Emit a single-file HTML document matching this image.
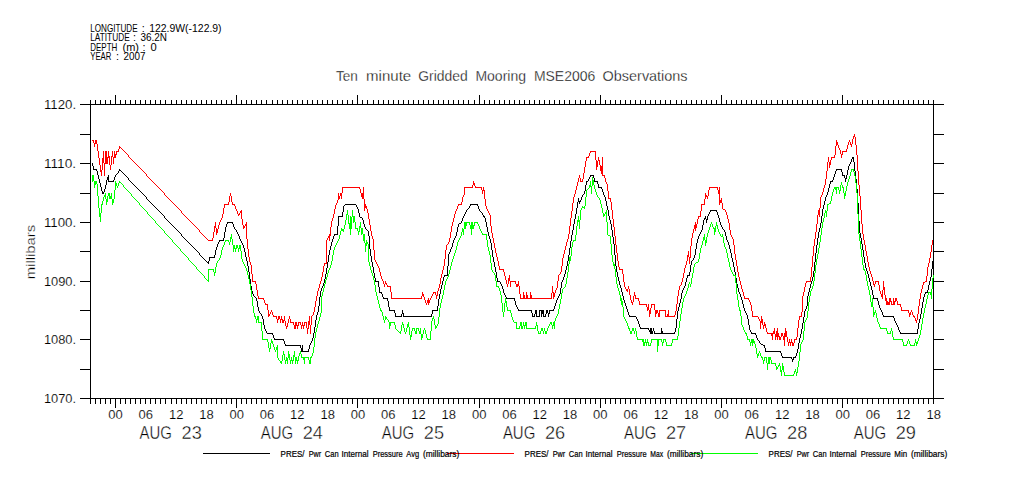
<!DOCTYPE html>
<html>
<head>
<meta charset="utf-8">
<title>Ten minute Gridded Mooring MSE2006 Observations</title>
<style>
html,body{margin:0;padding:0;background:#fff;}
body{width:1009px;height:504px;overflow:hidden;font-family:"Liberation Sans",sans-serif;}
svg{display:block;}
svg text{font-family:"Liberation Sans",sans-serif;fill:#000;}
</style>
</head>
<body>
<svg width="1009" height="504" viewBox="0 0 1009 504">
<rect x="0" y="0" width="1009" height="504" fill="#fff"/>
<path d="M80 104h864v1h-864zM80 398h864v1h-864zM90 100h1v299h-1zM933 100h1v299h-1zM80 134h10v1h-10zM933 134h11v1h-11zM80 163h10v1h-10zM933 163h11v1h-11zM80 193h10v1h-10zM933 193h11v1h-11zM80 222h10v1h-10zM933 222h11v1h-11zM80 251h10v1h-10zM933 251h11v1h-11zM80 281h10v1h-10zM933 281h11v1h-11zM80 310h10v1h-10zM933 310h11v1h-11zM80 339h10v1h-10zM933 339h11v1h-11zM80 369h10v1h-10zM933 369h11v1h-11zM90 100h1v4h-1zM90 399h1v5h-1zM95 100h1v4h-1zM95 399h1v5h-1zM100 100h1v4h-1zM100 399h1v5h-1zM105 100h1v4h-1zM105 399h1v5h-1zM110 100h1v4h-1zM110 399h1v5h-1zM115 95h1v9h-1zM115 399h1v9h-1zM120 100h1v4h-1zM120 399h1v5h-1zM125 100h1v4h-1zM125 399h1v5h-1zM130 100h1v4h-1zM130 399h1v5h-1zM135 100h1v4h-1zM135 399h1v5h-1zM140 100h1v4h-1zM140 399h1v5h-1zM145 100h1v4h-1zM145 399h1v5h-1zM150 100h1v4h-1zM150 399h1v5h-1zM155 100h1v4h-1zM155 399h1v5h-1zM160 100h1v4h-1zM160 399h1v5h-1zM165 100h1v4h-1zM165 399h1v5h-1zM171 100h1v4h-1zM171 399h1v5h-1zM176 100h1v4h-1zM176 399h1v5h-1zM181 100h1v4h-1zM181 399h1v5h-1zM186 100h1v4h-1zM186 399h1v5h-1zM191 100h1v4h-1zM191 399h1v5h-1zM196 100h1v4h-1zM196 399h1v5h-1zM201 100h1v4h-1zM201 399h1v5h-1zM206 100h1v4h-1zM206 399h1v5h-1zM211 100h1v4h-1zM211 399h1v5h-1zM216 100h1v4h-1zM216 399h1v5h-1zM221 100h1v4h-1zM221 399h1v5h-1zM226 100h1v4h-1zM226 399h1v5h-1zM231 100h1v4h-1zM231 399h1v5h-1zM236 95h1v9h-1zM236 399h1v9h-1zM241 100h1v4h-1zM241 399h1v5h-1zM246 100h1v4h-1zM246 399h1v5h-1zM251 100h1v4h-1zM251 399h1v5h-1zM256 100h1v4h-1zM256 399h1v5h-1zM261 100h1v4h-1zM261 399h1v5h-1zM266 100h1v4h-1zM266 399h1v5h-1zM272 100h1v4h-1zM272 399h1v5h-1zM277 100h1v4h-1zM277 399h1v5h-1zM282 100h1v4h-1zM282 399h1v5h-1zM287 100h1v4h-1zM287 399h1v5h-1zM292 100h1v4h-1zM292 399h1v5h-1zM297 100h1v4h-1zM297 399h1v5h-1zM302 100h1v4h-1zM302 399h1v5h-1zM307 100h1v4h-1zM307 399h1v5h-1zM312 100h1v4h-1zM312 399h1v5h-1zM317 100h1v4h-1zM317 399h1v5h-1zM322 100h1v4h-1zM322 399h1v5h-1zM327 100h1v4h-1zM327 399h1v5h-1zM332 100h1v4h-1zM332 399h1v5h-1zM337 100h1v4h-1zM337 399h1v5h-1zM342 100h1v4h-1zM342 399h1v5h-1zM347 100h1v4h-1zM347 399h1v5h-1zM352 100h1v4h-1zM352 399h1v5h-1zM357 95h1v9h-1zM357 399h1v9h-1zM362 100h1v4h-1zM362 399h1v5h-1zM367 100h1v4h-1zM367 399h1v5h-1zM373 100h1v4h-1zM373 399h1v5h-1zM378 100h1v4h-1zM378 399h1v5h-1zM383 100h1v4h-1zM383 399h1v5h-1zM388 100h1v4h-1zM388 399h1v5h-1zM393 100h1v4h-1zM393 399h1v5h-1zM398 100h1v4h-1zM398 399h1v5h-1zM403 100h1v4h-1zM403 399h1v5h-1zM408 100h1v4h-1zM408 399h1v5h-1zM413 100h1v4h-1zM413 399h1v5h-1zM418 100h1v4h-1zM418 399h1v5h-1zM423 100h1v4h-1zM423 399h1v5h-1zM428 100h1v4h-1zM428 399h1v5h-1zM433 100h1v4h-1zM433 399h1v5h-1zM438 100h1v4h-1zM438 399h1v5h-1zM443 100h1v4h-1zM443 399h1v5h-1zM448 100h1v4h-1zM448 399h1v5h-1zM453 100h1v4h-1zM453 399h1v5h-1zM458 100h1v4h-1zM458 399h1v5h-1zM463 100h1v4h-1zM463 399h1v5h-1zM468 100h1v4h-1zM468 399h1v5h-1zM474 100h1v4h-1zM474 399h1v5h-1zM479 95h1v9h-1zM479 399h1v9h-1zM484 100h1v4h-1zM484 399h1v5h-1zM489 100h1v4h-1zM489 399h1v5h-1zM494 100h1v4h-1zM494 399h1v5h-1zM499 100h1v4h-1zM499 399h1v5h-1zM504 100h1v4h-1zM504 399h1v5h-1zM509 100h1v4h-1zM509 399h1v5h-1zM514 100h1v4h-1zM514 399h1v5h-1zM519 100h1v4h-1zM519 399h1v5h-1zM524 100h1v4h-1zM524 399h1v5h-1zM529 100h1v4h-1zM529 399h1v5h-1zM534 100h1v4h-1zM534 399h1v5h-1zM539 100h1v4h-1zM539 399h1v5h-1zM544 100h1v4h-1zM544 399h1v5h-1zM549 100h1v4h-1zM549 399h1v5h-1zM554 100h1v4h-1zM554 399h1v5h-1zM559 100h1v4h-1zM559 399h1v5h-1zM564 100h1v4h-1zM564 399h1v5h-1zM569 100h1v4h-1zM569 399h1v5h-1zM575 100h1v4h-1zM575 399h1v5h-1zM580 100h1v4h-1zM580 399h1v5h-1zM585 100h1v4h-1zM585 399h1v5h-1zM590 100h1v4h-1zM590 399h1v5h-1zM595 100h1v4h-1zM595 399h1v5h-1zM600 95h1v9h-1zM600 399h1v9h-1zM605 100h1v4h-1zM605 399h1v5h-1zM610 100h1v4h-1zM610 399h1v5h-1zM615 100h1v4h-1zM615 399h1v5h-1zM620 100h1v4h-1zM620 399h1v5h-1zM625 100h1v4h-1zM625 399h1v5h-1zM630 100h1v4h-1zM630 399h1v5h-1zM635 100h1v4h-1zM635 399h1v5h-1zM640 100h1v4h-1zM640 399h1v5h-1zM645 100h1v4h-1zM645 399h1v5h-1zM650 100h1v4h-1zM650 399h1v5h-1zM655 100h1v4h-1zM655 399h1v5h-1zM660 100h1v4h-1zM660 399h1v5h-1zM665 100h1v4h-1zM665 399h1v5h-1zM670 100h1v4h-1zM670 399h1v5h-1zM676 100h1v4h-1zM676 399h1v5h-1zM681 100h1v4h-1zM681 399h1v5h-1zM686 100h1v4h-1zM686 399h1v5h-1zM691 100h1v4h-1zM691 399h1v5h-1zM696 100h1v4h-1zM696 399h1v5h-1zM701 100h1v4h-1zM701 399h1v5h-1zM706 100h1v4h-1zM706 399h1v5h-1zM711 100h1v4h-1zM711 399h1v5h-1zM716 100h1v4h-1zM716 399h1v5h-1zM721 95h1v9h-1zM721 399h1v9h-1zM726 100h1v4h-1zM726 399h1v5h-1zM731 100h1v4h-1zM731 399h1v5h-1zM736 100h1v4h-1zM736 399h1v5h-1zM741 100h1v4h-1zM741 399h1v5h-1zM746 100h1v4h-1zM746 399h1v5h-1zM751 100h1v4h-1zM751 399h1v5h-1zM756 100h1v4h-1zM756 399h1v5h-1zM761 100h1v4h-1zM761 399h1v5h-1zM766 100h1v4h-1zM766 399h1v5h-1zM771 100h1v4h-1zM771 399h1v5h-1zM777 100h1v4h-1zM777 399h1v5h-1zM782 100h1v4h-1zM782 399h1v5h-1zM787 100h1v4h-1zM787 399h1v5h-1zM792 100h1v4h-1zM792 399h1v5h-1zM797 100h1v4h-1zM797 399h1v5h-1zM802 100h1v4h-1zM802 399h1v5h-1zM807 100h1v4h-1zM807 399h1v5h-1zM812 100h1v4h-1zM812 399h1v5h-1zM817 100h1v4h-1zM817 399h1v5h-1zM822 100h1v4h-1zM822 399h1v5h-1zM827 100h1v4h-1zM827 399h1v5h-1zM832 100h1v4h-1zM832 399h1v5h-1zM837 100h1v4h-1zM837 399h1v5h-1zM842 95h1v9h-1zM842 399h1v9h-1zM847 100h1v4h-1zM847 399h1v5h-1zM852 100h1v4h-1zM852 399h1v5h-1zM857 100h1v4h-1zM857 399h1v5h-1zM862 100h1v4h-1zM862 399h1v5h-1zM867 100h1v4h-1zM867 399h1v5h-1zM872 100h1v4h-1zM872 399h1v5h-1zM878 100h1v4h-1zM878 399h1v5h-1zM883 100h1v4h-1zM883 399h1v5h-1zM888 100h1v4h-1zM888 399h1v5h-1zM893 100h1v4h-1zM893 399h1v5h-1zM898 100h1v4h-1zM898 399h1v5h-1zM903 100h1v4h-1zM903 399h1v5h-1zM908 100h1v4h-1zM908 399h1v5h-1zM913 100h1v4h-1zM913 399h1v5h-1zM918 100h1v4h-1zM918 399h1v5h-1zM923 100h1v4h-1zM923 399h1v5h-1zM928 100h1v4h-1zM928 399h1v5h-1zM933 100h1v4h-1zM933 399h1v5h-1z" fill="#000" shape-rendering="crispEdges"/>
<path d="M92.5 163v3M93.5 166v4M96.5 169v2M97.5 171v4M98.5 175v4M99.5 179v4M100.5 183v4M101.5 187v4M102.5 191v3M103.5 192v2M104.5 189v3M105.5 185v4M106.5 180v5M107.5 177v3M108.5 175v7M113.5 180v2M114.5 177v3M115.5 175v2M118.5 171v2M119.5 169v2M128.5 178v2M146.5 197v2M164.5 216v2M181.5 234v2M199.5 253v2M208.5 261v3M209.5 257v4M214.5 255v3M215.5 250v5M216.5 247v3M217.5 244v3M218.5 242v2M219.5 240v2M223.5 238v3M224.5 232v6M225.5 227v5M226.5 224v3M227.5 222v2M232.5 222v2M233.5 224v3M234.5 227v2M236.5 230v2M237.5 232v2M238.5 234v2M239.5 236v3M240.5 239v2M241.5 241v2M242.5 243v2M243.5 245v3M244.5 248v4M245.5 252v5M246.5 257v4M247.5 261v5M248.5 266v6M249.5 272v7M250.5 279v7M251.5 286v5M252.5 291v3M253.5 294v2M256.5 298v3M257.5 301v6M258.5 307v4M259.5 311v2M261.5 314v2M262.5 316v3M263.5 319v6M264.5 325v4M265.5 329v2M266.5 331v2M272.5 333v2M273.5 335v3M274.5 338v2M283.5 339v2M284.5 341v3M285.5 344v2M300.5 345v3M301.5 348v4M302.5 345v7M308.5 349v3M309.5 345v4M310.5 343v2M311.5 341v2M312.5 338v3M313.5 333v5M314.5 327v6M315.5 320v7M316.5 315v5M317.5 312v3M318.5 306v6M319.5 297v9M320.5 291v6M321.5 288v3M322.5 286v2M323.5 283v3M324.5 279v4M325.5 274v5M326.5 268v6M327.5 262v6M328.5 255v7M329.5 250v5M330.5 246v4M331.5 242v4M332.5 239v3M333.5 236v3M334.5 234v2M337.5 226v9M338.5 216v10M342.5 212v5M343.5 206v6M356.5 205v2M357.5 207v2M358.5 209v4M359.5 213v4M362.5 218v2M363.5 220v4M364.5 224v3M365.5 227v2M368.5 231v5M369.5 236v13M370.5 249v7M371.5 256v6M372.5 262v5M373.5 267v6M374.5 273v5M375.5 278v4M378.5 281v6M379.5 287v6M381.5 292v2M382.5 294v3M383.5 297v2M387.5 298v3M388.5 301v6M389.5 307v4M394.5 310v3M395.5 313v4M401.5 314v3M402.5 310v4M403.5 313v4M431.5 314v3M432.5 310v4M437.5 306v5M438.5 299v7M439.5 294v5M440.5 289v5M441.5 285v4M442.5 281v4M443.5 277v4M444.5 275v2M447.5 266v10M448.5 254v12M449.5 252v2M450.5 249v3M451.5 247v2M452.5 243v4M453.5 240v3M454.5 238v2M455.5 236v2M456.5 232v4M457.5 227v5M458.5 224v3M461.5 221v2M462.5 218v3M463.5 216v2M464.5 214v2M465.5 212v2M466.5 210v2M469.5 206v2M470.5 204v2M477.5 204v2M478.5 206v3M479.5 209v2M482.5 213v2M483.5 215v2M484.5 216v2M485.5 218v4M486.5 222v5M487.5 227v5M488.5 232v4M489.5 236v3M490.5 239v4M491.5 243v7M492.5 250v7M493.5 257v5M494.5 262v5M495.5 267v5M496.5 272v6M497.5 278v4M500.5 282v2M501.5 284v2M502.5 286v3M503.5 289v4M504.5 293v2M505.5 295v2M506.5 297v2M514.5 298v3M515.5 301v4M516.5 305v2M517.5 307v2M518.5 309v2M531.5 310v3M532.5 313v4M534.5 314v3M535.5 310v4M536.5 310v7M539.5 310v7M541.5 310v7M542.5 310v4M543.5 310v7M545.5 314v3M546.5 310v4M547.5 310v3M548.5 313v4M549.5 310v4M553.5 309v2M554.5 306v3M555.5 303v3M556.5 300v3M557.5 298v2M558.5 296v2M559.5 294v2M560.5 288v6M561.5 282v6M562.5 280v2M563.5 277v3M564.5 274v3M565.5 270v4M566.5 266v4M567.5 261v5M568.5 255v6M569.5 248v7M570.5 241v7M571.5 235v6M572.5 230v5M573.5 224v6M574.5 219v5M575.5 214v5M576.5 208v6M577.5 202v6M578.5 198v4M579.5 201v3M580.5 200v2M581.5 197v3M582.5 195v2M584.5 191v3M585.5 185v6M586.5 181v4M588.5 179v2M589.5 177v2M590.5 175v2M593.5 175v3M594.5 178v4M597.5 181v3M598.5 184v4M601.5 187v2M602.5 189v3M603.5 192v3M604.5 195v2M605.5 197v4M606.5 201v5M607.5 206v4M608.5 210v6M609.5 216v4M610.5 220v4M611.5 224v6M612.5 230v7M613.5 237v7M614.5 244v11M615.5 255v11M616.5 266v6M617.5 272v5M618.5 277v4M619.5 281v4M620.5 285v3M621.5 288v4M622.5 292v4M623.5 296v4M624.5 300v3M625.5 303v3M626.5 306v3M627.5 309v3M628.5 312v3M629.5 315v2M636.5 317v2M637.5 319v2M638.5 321v3M639.5 324v3M640.5 327v2M648.5 328v2M649.5 330v2M650.5 328v6M651.5 328v6M652.5 331v3M653.5 328v3M654.5 331v3M661.5 328v6M662.5 331v3M674.5 332v2M675.5 328v4M676.5 319v9M677.5 311v8M678.5 307v4M679.5 303v4M680.5 299v4M681.5 293v6M682.5 290v3M683.5 288v2M684.5 286v2M685.5 282v4M686.5 278v4M687.5 275v3M689.5 272v4M690.5 265v7M691.5 261v4M693.5 258v2M694.5 255v3M695.5 249v6M696.5 243v6M697.5 239v4M698.5 236v3M699.5 234v2M700.5 232v2M701.5 230v2M702.5 225v5M703.5 220v5M704.5 218v2M705.5 216v3M706.5 219v4M707.5 216v4M708.5 214v2M709.5 212v2M710.5 210v2M716.5 210v2M717.5 212v3M718.5 215v3M719.5 218v4M720.5 222v3M721.5 225v2M722.5 227v2M724.5 230v2M725.5 232v4M726.5 236v4M727.5 240v2M728.5 242v3M729.5 245v4M730.5 249v4M731.5 253v5M732.5 258v4M733.5 262v5M734.5 267v5M735.5 272v6M736.5 278v6M737.5 284v4M738.5 288v4M739.5 292v2M740.5 294v3M741.5 297v3M742.5 300v4M743.5 304v4M744.5 308v3M745.5 311v2M746.5 313v2M747.5 315v4M748.5 319v6M749.5 325v5M750.5 330v2M751.5 332v2M755.5 333v2M756.5 335v3M757.5 338v2M759.5 341v2M764.5 345v3M765.5 348v4M780.5 351v2M781.5 353v3M782.5 356v2M791.5 357v2M792.5 359v3M793.5 357v3M795.5 356v2M796.5 353v3M797.5 349v4M798.5 343v6M799.5 338v5M800.5 334v4M801.5 329v5M802.5 323v6M803.5 317v6M804.5 311v6M805.5 309v2M806.5 306v3M807.5 296v10M808.5 292v4M809.5 288v4M810.5 284v4M811.5 281v3M812.5 277v4M813.5 271v6M814.5 262v9M815.5 253v9M816.5 245v8M817.5 238v7M818.5 232v6M819.5 228v4M820.5 223v5M821.5 216v7M822.5 209v7M823.5 205v4M824.5 201v4M825.5 197v4M826.5 195v2M827.5 192v3M828.5 188v4M829.5 184v4M830.5 181v3M832.5 180v2M833.5 177v3M834.5 174v3M835.5 171v3M836.5 169v2M841.5 169v3M842.5 172v4M844.5 175v3M845.5 178v4M846.5 175v4M847.5 170v5M848.5 166v4M849.5 164v2M850.5 162v2M851.5 159v3M852.5 157v2M853.5 157v5M854.5 162v9M855.5 171v8M856.5 179v10M857.5 189v14M858.5 203v18M859.5 221v12M860.5 233v5M861.5 238v6M862.5 244v6M863.5 250v7M864.5 257v6M865.5 263v5M866.5 268v3M867.5 271v3M868.5 274v4M869.5 278v4M870.5 282v4M871.5 286v4M872.5 290v5M873.5 295v4M877.5 298v3M878.5 301v4M879.5 305v3M880.5 308v2M881.5 310v2M882.5 312v3M883.5 315v2M893.5 316v2M894.5 318v3M895.5 321v2M896.5 323v2M897.5 325v2M898.5 327v3M899.5 330v2M900.5 332v2M917.5 329v5M918.5 323v6M919.5 319v4M920.5 314v5M921.5 308v6M922.5 302v6M923.5 297v5M924.5 294v3M925.5 292v2M927.5 290v3M928.5 285v5M929.5 281v4M930.5 277v4M931.5 269v8M932.5 261v8M94 169.5h2M837 169.5h4M120 170.5h1M121 171.5h1M122 172.5h1M117 173.5h1M123 173.5h1M116 174.5h1M124 174.5h1M125 175.5h1M591 175.5h2M843 175.5h1M126 176.5h1M127 177.5h1M129 180.5h1M109 181.5h4M130 181.5h1M587 181.5h1M595 181.5h2M831 181.5h1M131 182.5h1M132 183.5h1M133 184.5h1M134 185.5h1M135 186.5h1M136 187.5h1M599 187.5h2M137 188.5h1M138 189.5h1M139 190.5h1M140 191.5h1M141 192.5h1M142 193.5h1M143 194.5h1M583 194.5h1M144 195.5h1M145 196.5h1M147 199.5h1M148 200.5h1M149 201.5h1M150 202.5h1M151 203.5h1M152 204.5h1M345 204.5h11M471 204.5h6M153 205.5h1M344 205.5h1M154 206.5h1M155 207.5h1M156 208.5h1M468 208.5h1M157 209.5h1M467 209.5h1M158 210.5h1M711 210.5h5M159 211.5h1M480 211.5h1M160 212.5h1M481 212.5h1M161 213.5h1M162 214.5h1M163 215.5h1M339 216.5h3M360 217.5h2M165 218.5h1M166 219.5h1M167 220.5h1M168 221.5h1M169 222.5h1M228 222.5h4M170 223.5h1M459 223.5h2M171 224.5h1M172 225.5h1M173 226.5h1M174 227.5h1M175 228.5h1M176 229.5h1M235 229.5h1M366 229.5h1M723 229.5h1M177 230.5h1M367 230.5h1M178 231.5h1M179 232.5h1M180 233.5h1M335 234.5h2M182 236.5h1M183 237.5h1M184 238.5h1M185 239.5h1M186 240.5h1M220 240.5h3M187 241.5h1M188 242.5h1M189 243.5h1M190 244.5h1M191 245.5h1M192 246.5h1M193 247.5h1M194 248.5h1M195 249.5h1M196 250.5h1M197 251.5h1M198 252.5h1M200 255.5h1M201 256.5h1M202 257.5h1M210 257.5h4M203 258.5h1M204 259.5h1M205 260.5h1M692 260.5h1M206 261.5h1M207 262.5h1M445 275.5h2M688 275.5h1M376 281.5h2M498 281.5h2M380 292.5h1M926 292.5h1M254 296.5h1M255 297.5h1M384 298.5h3M507 298.5h7M874 298.5h3M390 310.5h4M433 310.5h4M519 310.5h12M540 310.5h1M550 310.5h3M260 313.5h1M396 316.5h5M404 316.5h27M533 316.5h1M537 316.5h2M544 316.5h1M630 316.5h6M884 316.5h9M641 328.5h7M267 333.5h5M655 333.5h6M663 333.5h11M752 333.5h3M901 333.5h16M275 339.5h8M758 340.5h1M760 343.5h1M761 344.5h2M286 345.5h14M763 345.5h1M303 351.5h5M766 351.5h14M783 357.5h8M794 357.5h1" fill="none" stroke="#000000" stroke-width="1" shape-rendering="crispEdges"/>
<path d="M93.5 140v3M94.5 143v4M95.5 140v4M96.5 140v4M97.5 144v7M98.5 151v7M99.5 158v7M100.5 165v7M101.5 170v6M102.5 158v12M103.5 151v12M104.5 163v13M105.5 151v13M106.5 151v13M107.5 157v7M108.5 151v7M109.5 156v9M110.5 165v5M111.5 156v9M112.5 151v6M113.5 157v7M114.5 151v7M115.5 154v4M116.5 151v4M118.5 149v3M119.5 146v3M128.5 155v2M146.5 174v2M164.5 193v2M181.5 211v2M199.5 230v2M212.5 238v3M213.5 232v6M214.5 226v6M215.5 222v6M216.5 228v7M217.5 229v4M218.5 225v4M219.5 222v3M220.5 220v2M221.5 218v2M222.5 214v4M223.5 208v6M224.5 204v4M228.5 202v3M229.5 196v6M230.5 193v3M231.5 196v6M232.5 202v3M234.5 204v2M235.5 206v3M236.5 209v2M237.5 211v3M238.5 214v2M239.5 213v2M240.5 211v2M241.5 210v9M242.5 219v6M243.5 225v4M244.5 226v2M245.5 224v2M246.5 222v17M247.5 239v10M248.5 249v8M249.5 257v5M250.5 262v3M251.5 265v9M252.5 274v8M255.5 281v3M256.5 284v6M257.5 290v6M258.5 296v3M263.5 298v2M264.5 300v3M265.5 303v2M267.5 304v6M268.5 310v7M269.5 314v2M270.5 312v2M271.5 310v2M272.5 312v3M273.5 315v2M276.5 316v3M277.5 319v4M278.5 316v4M279.5 316v3M280.5 319v4M281.5 316v4M282.5 319v4M283.5 320v3M284.5 316v5M285.5 321v5M286.5 326v3M287.5 323v4M288.5 319v4M289.5 316v3M290.5 319v4M293.5 322v3M294.5 325v4M295.5 322v7M296.5 322v4M297.5 325v4M298.5 322v4M300.5 322v3M301.5 325v4M302.5 322v4M303.5 325v4M304.5 322v4M306.5 322v6M307.5 328v6M308.5 321v8M309.5 316v9M310.5 325v9M311.5 316v9M313.5 312v3M314.5 307v5M315.5 301v6M316.5 296v5M317.5 291v5M318.5 288v3M319.5 284v4M320.5 281v3M321.5 277v4M322.5 272v5M323.5 266v6M324.5 263v3M326.5 240v24M327.5 238v2M328.5 236v2M329.5 234v7M330.5 227v9M331.5 221v6M332.5 218v3M333.5 214v4M334.5 209v5M335.5 205v4M336.5 203v2M337.5 200v3M338.5 193v7M339.5 196v3M340.5 193v3M341.5 193v6M342.5 187v6M359.5 187v2M360.5 189v4M361.5 193v4M362.5 193v6M363.5 187v12M364.5 199v12M365.5 204v4M366.5 206v3M367.5 209v4M368.5 213v6M369.5 219v6M370.5 225v6M371.5 231v5M372.5 236v3M373.5 239v11M374.5 250v10M375.5 260v2M376.5 262v2M377.5 264v2M378.5 266v2M379.5 268v4M380.5 272v4M381.5 276v3M382.5 279v2M383.5 281v3M384.5 284v3M385.5 281v3M386.5 283v2M387.5 285v2M390.5 286v6M391.5 292v7M421.5 296v3M422.5 292v4M423.5 294v3M424.5 297v3M425.5 300v3M426.5 303v2M427.5 300v3M428.5 298v7M429.5 300v3M430.5 298v2M431.5 296v2M432.5 294v2M433.5 292v2M435.5 292v3M436.5 295v4M437.5 291v5M438.5 288v3M439.5 284v4M440.5 278v6M441.5 274v4M442.5 270v4M443.5 266v4M444.5 259v7M445.5 250v9M446.5 245v5M448.5 242v2M449.5 238v4M450.5 232v6M451.5 226v6M452.5 222v4M453.5 218v4M454.5 214v4M455.5 211v3M456.5 209v2M457.5 206v3M458.5 204v2M461.5 202v3M462.5 197v5M463.5 195v2M464.5 187v8M472.5 185v3M473.5 181v4M474.5 183v3M475.5 186v2M481.5 187v3M482.5 190v4M483.5 187v4M484.5 190v9M485.5 199v7M486.5 206v3M487.5 209v2M488.5 211v2M489.5 213v2M490.5 215v11M491.5 226v7M492.5 233v5M493.5 238v5M494.5 243v5M495.5 248v5M496.5 253v4M497.5 257v4M498.5 261v5M499.5 266v4M503.5 269v3M504.5 272v4M505.5 276v4M506.5 280v4M507.5 284v3M508.5 278v6M509.5 275v6M510.5 281v6M515.5 281v3M516.5 284v3M517.5 284v3M518.5 281v5M519.5 286v8M520.5 294v5M523.5 292v7M524.5 295v4M526.5 292v7M527.5 295v4M530.5 292v7M531.5 295v4M551.5 293v6M552.5 286v7M553.5 292v7M554.5 293v4M555.5 290v3M556.5 288v2M557.5 281v7M558.5 275v6M560.5 272v2M561.5 266v6M562.5 258v8M563.5 254v4M564.5 250v4M565.5 246v4M566.5 242v4M567.5 239v3M568.5 234v5M569.5 226v8M570.5 218v8M571.5 211v7M572.5 203v8M573.5 197v6M574.5 194v3M575.5 190v4M576.5 186v4M577.5 182v4M578.5 178v4M579.5 175v3M580.5 178v4M582.5 179v3M583.5 173v6M584.5 167v6M585.5 161v6M586.5 157v4M588.5 156v2M589.5 153v3M590.5 151v2M595.5 151v9M596.5 160v10M597.5 161v6M598.5 157v4M599.5 160v5M600.5 165v6M601.5 166v8M602.5 157v19M604.5 175v3M605.5 178v4M606.5 182v2M607.5 184v7M608.5 191v8M610.5 198v4M611.5 202v8M612.5 210v9M613.5 219v8M614.5 227v9M615.5 236v9M616.5 245v8M617.5 253v8M618.5 261v6M619.5 267v3M622.5 269v5M623.5 274v8M624.5 282v5M625.5 287v2M626.5 289v2M627.5 289v3M628.5 286v3M629.5 289v6M630.5 295v5M631.5 300v3M632.5 302v3M633.5 296v6M634.5 292v4M635.5 295v4M638.5 298v3M639.5 301v4M646.5 304v3M647.5 307v4M648.5 304v6M649.5 310v7M650.5 308v6M651.5 304v4M654.5 304v6M655.5 310v7M656.5 310v4M657.5 310v3M658.5 313v4M659.5 310v7M665.5 310v7M667.5 314v3M668.5 310v7M674.5 315v2M675.5 311v4M676.5 304v7M677.5 296v8M678.5 290v6M679.5 286v4M681.5 282v3M682.5 278v4M683.5 273v5M684.5 268v5M685.5 265v3M686.5 261v4M687.5 255v6M688.5 251v6M689.5 257v7M690.5 246v12M691.5 238v8M692.5 233v5M693.5 229v4M694.5 225v4M695.5 222v9M696.5 224v4M697.5 219v5M698.5 216v3M700.5 211v6M701.5 204v7M704.5 199v6M705.5 193v6M706.5 195v2M707.5 196v3M708.5 190v6M709.5 187v3M717.5 187v3M718.5 190v4M719.5 187v18M720.5 200v3M721.5 198v5M722.5 203v6M725.5 210v2M726.5 212v3M727.5 215v4M728.5 219v4M729.5 223v7M730.5 230v5M731.5 235v2M732.5 237v2M733.5 239v6M734.5 245v9M735.5 254v6M736.5 260v6M737.5 266v6M738.5 272v5M739.5 277v4M740.5 281v4M741.5 285v4M742.5 289v3M743.5 292v4M744.5 296v3M748.5 298v2M749.5 300v2M750.5 302v3M751.5 305v6M752.5 311v6M758.5 317v2M759.5 319v2M760.5 321v8M761.5 316v7M762.5 319v6M763.5 325v4M764.5 322v4M765.5 324v4M766.5 328v4M767.5 332v2M771.5 333v3M772.5 333v7M773.5 331v3M774.5 328v6M775.5 334v6M776.5 331v6M777.5 328v12M778.5 333v4M779.5 336v4M780.5 337v3M781.5 333v4M782.5 333v3M783.5 336v4M784.5 333v13M785.5 328v9M786.5 331v6M787.5 337v5M788.5 342v4M789.5 339v4M790.5 342v4M791.5 339v4M792.5 342v4M793.5 343v3M794.5 339v4M796.5 337v3M797.5 328v9M798.5 320v8M799.5 316v4M801.5 312v5M802.5 296v16M803.5 292v4M804.5 287v5M805.5 283v4M806.5 281v2M810.5 277v5M811.5 267v10M812.5 256v11M813.5 246v10M814.5 239v7M815.5 232v7M816.5 224v8M817.5 215v9M818.5 210v5M819.5 208v9M820.5 197v11M821.5 195v2M822.5 192v3M823.5 188v4M824.5 185v3M825.5 179v6M826.5 171v8M827.5 162v9M828.5 157v5M829.5 162v6M830.5 160v5M831.5 157v3M834.5 155v3M835.5 146v9M836.5 140v6M837.5 142v3M838.5 145v3M839.5 148v2M840.5 150v4M841.5 154v4M842.5 151v4M846.5 149v3M847.5 145v4M848.5 142v3M849.5 140v2M850.5 142v3M851.5 144v3M852.5 139v5M853.5 136v3M854.5 134v3M855.5 137v8M856.5 145v10M857.5 155v16M858.5 171v14M859.5 185v11M860.5 196v14M861.5 210v14M862.5 224v10M863.5 234v6M864.5 240v5M865.5 245v6M866.5 251v5M867.5 256v6M868.5 262v5M869.5 267v4M870.5 271v3M871.5 274v3M872.5 277v4M873.5 281v4M874.5 284v3M875.5 281v3M878.5 281v4M879.5 285v6M880.5 291v3M881.5 294v3M882.5 290v9M883.5 281v9M884.5 287v8M885.5 295v6M886.5 298v7M887.5 301v4M888.5 302v3M889.5 298v7M890.5 298v4M891.5 301v4M893.5 298v7M894.5 301v4M895.5 298v4M896.5 298v3M897.5 301v4M900.5 304v3M901.5 307v4M908.5 310v3M909.5 313v4M910.5 312v3M911.5 310v2M912.5 312v3M913.5 315v2M914.5 316v2M915.5 318v3M916.5 320v3M917.5 314v6M918.5 306v8M919.5 299v7M920.5 293v6M921.5 289v4M922.5 285v4M923.5 282v3M926.5 276v6M927.5 267v9M928.5 263v4M929.5 258v5M930.5 252v6M931.5 245v7M932.5 240v5M92 140.5h1M120 147.5h1M121 148.5h1M122 149.5h1M123 150.5h1M117 151.5h1M124 151.5h1M591 151.5h4M843 151.5h3M125 152.5h1M126 153.5h1M127 154.5h1M129 157.5h1M587 157.5h1M832 157.5h2M130 158.5h1M131 159.5h1M132 160.5h1M133 161.5h1M134 162.5h1M135 163.5h1M136 164.5h1M137 165.5h1M138 166.5h1M139 167.5h1M140 168.5h1M141 169.5h1M142 170.5h1M143 171.5h1M144 172.5h1M145 173.5h1M603 175.5h1M147 176.5h1M148 177.5h1M149 178.5h1M150 179.5h1M151 180.5h1M152 181.5h1M581 181.5h1M153 182.5h1M154 183.5h1M155 184.5h1M156 185.5h1M157 186.5h1M158 187.5h1M343 187.5h16M465 187.5h7M476 187.5h5M710 187.5h7M159 188.5h1M160 189.5h1M161 190.5h1M162 191.5h1M163 192.5h1M165 195.5h1M166 196.5h1M167 197.5h1M168 198.5h1M609 198.5h1M169 199.5h1M170 200.5h1M171 201.5h1M172 202.5h1M173 203.5h1M174 204.5h1M225 204.5h3M233 204.5h1M459 204.5h2M702 204.5h2M175 205.5h1M176 206.5h1M177 207.5h1M178 208.5h1M179 209.5h1M723 209.5h2M180 210.5h1M182 213.5h1M183 214.5h1M184 215.5h1M185 216.5h1M699 216.5h1M186 217.5h1M187 218.5h1M188 219.5h1M189 220.5h1M190 221.5h1M191 222.5h1M192 223.5h1M193 224.5h1M194 225.5h1M195 226.5h1M196 227.5h1M197 228.5h1M198 229.5h1M200 232.5h1M201 233.5h1M202 234.5h1M203 235.5h1M204 236.5h1M205 237.5h1M206 238.5h1M207 239.5h1M208 240.5h4M447 244.5h1M325 263.5h1M500 269.5h3M620 269.5h2M559 274.5h1M253 281.5h2M511 281.5h4M807 281.5h3M876 281.5h2M925 281.5h1M924 282.5h1M680 285.5h1M388 286.5h2M434 292.5h1M259 298.5h4M392 298.5h29M521 298.5h2M525 298.5h1M528 298.5h2M532 298.5h19M636 298.5h2M745 298.5h3M266 304.5h1M640 304.5h6M652 304.5h2M892 304.5h1M898 304.5h2M660 310.5h5M902 310.5h6M312 315.5h1M274 316.5h2M666 316.5h1M669 316.5h5M753 316.5h5M800 316.5h1M291 322.5h2M299 322.5h1M305 322.5h1M768 333.5h3M795 339.5h1" fill="none" stroke="#ff0000" stroke-width="1" shape-rendering="crispEdges"/>
<path d="M92.5 175v7M93.5 175v6M94.5 181v7M95.5 181v4M96.5 181v3M97.5 184v12M98.5 196v12M99.5 208v9M100.5 213v9M101.5 204v9M102.5 201v4M103.5 197v4M104.5 195v2M105.5 193v6M106.5 199v6M107.5 196v6M108.5 193v3M109.5 193v6M110.5 196v3M111.5 193v6M112.5 199v6M113.5 199v4M114.5 190v9M115.5 181v9M116.5 183v3M117.5 186v2M118.5 183v3M119.5 181v2M123.5 185v2M131.5 194v2M139.5 203v2M147.5 212v2M155.5 221v2M164.5 231v2M172.5 240v2M180.5 249v2M188.5 258v2M196.5 267v2M204.5 276v2M208.5 269v13M213.5 269v3M214.5 272v4M215.5 267v6M216.5 263v4M217.5 261v2M219.5 258v2M220.5 255v3M221.5 250v5M222.5 247v3M223.5 245v2M224.5 242v3M225.5 240v2M228.5 240v2M229.5 242v3M230.5 237v5M231.5 234v5M232.5 239v6M233.5 245v7M234.5 245v4M235.5 248v4M236.5 245v4M237.5 245v3M238.5 248v4M239.5 245v4M240.5 245v6M241.5 251v8M242.5 259v3M243.5 262v2M244.5 264v2M245.5 266v2M246.5 268v3M247.5 271v4M248.5 275v4M249.5 279v5M250.5 284v6M251.5 290v7M252.5 297v9M253.5 306v7M254.5 313v4M255.5 316v3M256.5 319v4M257.5 316v4M258.5 316v7M261.5 322v9M262.5 331v9M267.5 339v3M268.5 342v6M269.5 348v4M270.5 343v6M271.5 339v4M272.5 341v3M273.5 344v3M274.5 347v3M275.5 350v2M276.5 347v3M277.5 345v13M278.5 358v2M280.5 361v2M281.5 361v3M282.5 355v6M283.5 351v4M284.5 354v6M285.5 360v4M286.5 357v4M287.5 358v6M288.5 351v7M289.5 354v6M290.5 360v4M291.5 357v4M292.5 360v4M293.5 355v6M294.5 351v6M295.5 357v7M296.5 357v4M297.5 360v4M298.5 356v5M299.5 353v3M300.5 351v3M301.5 354v4M303.5 357v3M304.5 357v7M308.5 357v3M309.5 360v4M310.5 357v7M311.5 356v2M312.5 353v3M313.5 347v6M314.5 338v9M315.5 332v6M316.5 328v4M317.5 324v4M318.5 321v3M319.5 317v4M320.5 313v4M321.5 296v17M322.5 292v4M323.5 288v4M324.5 284v4M325.5 280v4M326.5 277v3M327.5 273v4M328.5 270v3M329.5 268v2M330.5 265v3M331.5 261v4M332.5 255v6M333.5 250v5M334.5 247v3M335.5 245v2M336.5 243v2M337.5 241v2M338.5 239v2M339.5 235v4M340.5 231v4M341.5 228v3M342.5 229v2M343.5 229v3M344.5 225v4M345.5 220v5M346.5 214v6M347.5 210v5M348.5 215v9M349.5 223v6M350.5 216v19M351.5 217v12M352.5 210v7M353.5 216v7M354.5 216v6M355.5 222v7M357.5 228v3M358.5 231v4M359.5 226v6M360.5 222v6M361.5 228v7M362.5 228v6M363.5 234v7M364.5 234v9M365.5 243v9M366.5 240v6M367.5 242v2M368.5 244v18M369.5 262v4M370.5 266v4M371.5 270v3M372.5 273v3M373.5 276v4M374.5 280v5M375.5 285v7M376.5 292v4M377.5 296v4M378.5 300v4M379.5 304v4M380.5 308v3M381.5 310v2M382.5 312v4M383.5 316v4M384.5 320v3M385.5 316v4M386.5 317v2M388.5 320v2M389.5 322v7M390.5 322v4M394.5 322v3M395.5 325v4M400.5 331v3M401.5 325v6M402.5 322v3M403.5 324v4M404.5 328v4M405.5 332v2M406.5 328v4M407.5 324v4M408.5 322v5M409.5 327v8M410.5 335v5M411.5 331v6M412.5 328v3M414.5 328v3M415.5 331v3M416.5 328v6M418.5 328v3M419.5 331v3M420.5 328v6M421.5 334v6M422.5 334v4M423.5 330v4M424.5 328v2M425.5 330v4M426.5 334v4M427.5 338v2M430.5 331v9M431.5 321v10M432.5 318v3M433.5 316v3M434.5 319v6M435.5 325v4M436.5 326v2M437.5 324v2M438.5 317v7M439.5 308v9M440.5 303v5M441.5 299v4M442.5 295v4M443.5 290v5M444.5 285v5M445.5 281v4M446.5 279v2M447.5 277v2M448.5 274v3M449.5 270v4M450.5 266v4M451.5 262v4M452.5 259v3M453.5 256v3M454.5 253v3M455.5 250v3M456.5 246v4M457.5 242v4M458.5 240v2M459.5 238v2M460.5 236v2M461.5 232v4M462.5 228v4M463.5 229v6M464.5 222v7M465.5 222v7M466.5 222v4M469.5 222v3M470.5 225v4M471.5 222v13M472.5 222v7M473.5 225v4M474.5 222v4M477.5 222v2M478.5 224v2M479.5 226v3M480.5 229v2M481.5 231v2M482.5 233v2M486.5 234v6M487.5 240v7M488.5 247v4M489.5 251v4M490.5 255v8M491.5 263v7M492.5 270v2M494.5 273v2M495.5 275v6M496.5 281v6M498.5 286v2M499.5 288v3M500.5 291v4M501.5 295v8M502.5 303v9M503.5 312v5M504.5 303v9M505.5 298v5M506.5 301v6M507.5 307v4M510.5 310v3M511.5 313v4M512.5 317v3M513.5 320v2M516.5 322v7M519.5 326v3M520.5 322v4M521.5 322v7M522.5 326v3M523.5 322v4M524.5 325v4M525.5 322v4M526.5 322v7M535.5 326v3M536.5 322v4M537.5 325v6M538.5 331v3M540.5 331v3M541.5 328v3M542.5 328v3M543.5 331v3M544.5 328v3M545.5 331v3M546.5 331v3M547.5 328v3M548.5 326v2M549.5 324v2M550.5 322v2M551.5 322v3M552.5 325v4M553.5 322v4M554.5 321v8M555.5 318v3M556.5 316v2M557.5 314v2M558.5 309v5M559.5 304v5M560.5 299v5M561.5 293v6M562.5 289v4M565.5 284v3M566.5 278v6M567.5 272v6M568.5 264v8M569.5 257v7M570.5 256v5M571.5 247v9M572.5 242v5M573.5 240v2M575.5 235v6M576.5 226v9M577.5 220v6M578.5 216v6M579.5 220v9M580.5 210v10M581.5 208v2M582.5 206v2M584.5 206v3M585.5 197v9M586.5 190v7M589.5 185v3M590.5 181v6M591.5 186v8M592.5 177v9M593.5 180v5M594.5 185v4M595.5 189v3M596.5 192v3M597.5 195v2M599.5 198v2M600.5 200v4M601.5 204v4M602.5 208v5M603.5 213v4M604.5 214v2M605.5 212v2M606.5 210v12M607.5 222v13M610.5 236v8M611.5 244v11M612.5 255v7M613.5 262v4M614.5 264v5M615.5 269v8M616.5 277v7M617.5 284v4M618.5 288v3M619.5 291v4M620.5 295v6M621.5 298v7M622.5 301v6M623.5 307v10M624.5 317v2M625.5 319v2M626.5 321v2M627.5 323v3M628.5 326v3M629.5 328v3M630.5 331v3M631.5 331v3M632.5 328v3M633.5 328v3M634.5 331v3M635.5 328v3M636.5 331v6M637.5 337v3M642.5 339v3M643.5 339v7M644.5 342v4M645.5 339v4M646.5 342v4M647.5 339v4M648.5 342v4M650.5 343v3M651.5 339v4M657.5 339v13M658.5 339v7M661.5 339v3M662.5 342v4M663.5 339v4M665.5 339v3M666.5 342v4M671.5 343v3M672.5 339v4M677.5 336v4M678.5 328v8M679.5 321v7M680.5 314v7M681.5 308v6M682.5 302v6M683.5 298v4M684.5 296v2M685.5 294v2M686.5 291v3M687.5 288v3M688.5 284v4M689.5 282v2M690.5 284v3M691.5 278v6M692.5 273v5M693.5 267v6M694.5 264v3M698.5 259v3M699.5 253v6M700.5 248v5M701.5 245v3M702.5 241v4M703.5 237v4M704.5 234v6M705.5 240v6M706.5 237v6M707.5 233v4M708.5 230v3M709.5 227v3M710.5 224v3M711.5 222v2M712.5 224v3M713.5 227v2M714.5 228v7M715.5 226v6M716.5 222v4M717.5 225v4M718.5 229v3M719.5 232v2M720.5 234v2M722.5 234v3M723.5 237v6M724.5 243v4M725.5 247v2M726.5 249v4M727.5 253v5M728.5 258v4M729.5 262v5M730.5 267v3M731.5 270v2M732.5 272v2M733.5 274v2M735.5 275v8M736.5 283v11M737.5 294v6M738.5 300v7M739.5 307v4M740.5 310v6M741.5 316v9M742.5 325v2M743.5 327v3M744.5 330v2M745.5 332v2M746.5 333v3M747.5 336v4M749.5 339v3M750.5 342v4M751.5 339v4M752.5 339v7M753.5 339v4M754.5 341v3M755.5 344v4M756.5 348v6M757.5 354v4M758.5 353v3M759.5 351v2M760.5 353v3M761.5 356v2M762.5 357v3M763.5 360v4M764.5 357v4M766.5 357v6M767.5 363v7M768.5 357v7M769.5 357v7M770.5 357v3M771.5 360v4M775.5 363v3M776.5 366v4M777.5 367v2M778.5 365v2M779.5 363v3M780.5 366v6M781.5 370v6M782.5 363v7M783.5 366v6M784.5 372v4M793.5 374v2M794.5 371v3M795.5 369v3M796.5 372v4M797.5 367v6M798.5 361v6M799.5 352v9M800.5 344v8M801.5 342v2M802.5 340v2M803.5 331v9M804.5 322v9M805.5 320v2M806.5 318v2M807.5 311v7M808.5 302v9M809.5 296v6M810.5 291v5M811.5 289v2M812.5 286v3M813.5 281v5M814.5 273v8M815.5 265v8M816.5 259v6M817.5 254v5M818.5 248v6M819.5 242v6M820.5 235v7M821.5 228v7M822.5 222v6M823.5 218v4M824.5 213v5M825.5 210v3M826.5 211v6M827.5 204v7M830.5 201v3M831.5 196v5M832.5 192v4M833.5 189v3M834.5 187v2M835.5 187v3M836.5 187v7M838.5 187v3M839.5 190v4M840.5 185v6M841.5 182v3M842.5 185v3M843.5 187v6M844.5 193v6M845.5 191v5M846.5 186v5M847.5 182v4M848.5 179v3M849.5 176v3M850.5 172v4M851.5 169v3M853.5 169v3M854.5 172v4M855.5 176v7M856.5 183v10M857.5 193v21M858.5 214v20M859.5 234v7M860.5 241v8M861.5 249v8M862.5 257v8M863.5 265v5M864.5 269v2M865.5 271v4M866.5 275v6M867.5 281v5M868.5 286v4M869.5 290v5M870.5 295v7M871.5 302v5M872.5 298v9M873.5 307v10M874.5 312v3M875.5 310v3M876.5 313v5M877.5 318v4M878.5 322v2M879.5 324v3M880.5 327v2M886.5 328v3M887.5 331v3M890.5 331v3M891.5 328v3M892.5 331v6M893.5 337v3M902.5 339v3M903.5 342v4M906.5 344v2M907.5 341v3M908.5 339v2M909.5 341v3M910.5 344v2M914.5 343v3M915.5 339v4M916.5 342v4M917.5 341v3M918.5 338v3M919.5 335v3M920.5 330v5M921.5 324v6M922.5 318v6M923.5 313v5M924.5 308v5M925.5 304v4M926.5 299v5M927.5 295v4M928.5 292v3M930.5 292v3M931.5 289v10M932.5 278v11M933.5 275v3M852 169.5h1M120 182.5h1M121 183.5h1M122 184.5h1M124 187.5h1M837 187.5h1M125 188.5h1M588 188.5h1M126 189.5h1M587 189.5h1M127 190.5h1M128 191.5h1M129 192.5h1M130 193.5h1M132 196.5h1M133 197.5h1M598 197.5h1M134 198.5h1M135 199.5h1M136 200.5h1M137 201.5h1M138 202.5h1M829 203.5h1M828 204.5h1M140 205.5h1M141 206.5h1M142 207.5h1M583 207.5h1M143 208.5h1M144 209.5h1M145 210.5h1M146 211.5h1M148 214.5h1M149 215.5h1M150 216.5h1M151 217.5h1M152 218.5h1M153 219.5h1M154 220.5h1M467 222.5h2M475 222.5h2M156 223.5h1M157 224.5h1M158 225.5h1M159 226.5h1M160 227.5h1M161 228.5h1M356 228.5h1M162 229.5h1M163 230.5h1M165 233.5h1M166 234.5h1M483 234.5h3M167 235.5h1M608 235.5h2M168 236.5h1M721 236.5h1M169 237.5h1M170 238.5h1M171 239.5h1M226 240.5h2M574 240.5h1M173 242.5h1M174 243.5h1M175 244.5h1M176 245.5h1M177 246.5h1M178 247.5h1M179 248.5h1M181 251.5h1M182 252.5h1M183 253.5h1M184 254.5h1M185 255.5h1M186 256.5h1M187 257.5h1M189 260.5h1M218 260.5h1M190 261.5h1M191 262.5h1M696 262.5h2M192 263.5h1M695 263.5h1M193 264.5h1M194 265.5h1M195 266.5h1M197 269.5h1M209 269.5h4M198 270.5h1M199 271.5h1M200 272.5h1M493 272.5h1M201 273.5h1M202 274.5h1M203 275.5h1M734 275.5h1M205 278.5h1M206 279.5h1M207 280.5h1M497 286.5h1M564 287.5h1M563 288.5h1M929 292.5h1M508 310.5h2M387 319.5h1M259 322.5h2M391 322.5h3M514 322.5h2M413 328.5h1M417 328.5h1M517 328.5h2M527 328.5h8M881 328.5h5M396 329.5h1M397 330.5h1M398 331.5h1M399 332.5h1M539 333.5h1M888 333.5h2M263 339.5h4M428 339.5h2M638 339.5h4M652 339.5h5M659 339.5h2M664 339.5h1M673 339.5h4M748 339.5h1M894 339.5h8M649 345.5h1M667 345.5h4M904 345.5h2M911 345.5h3M302 357.5h1M305 357.5h3M765 357.5h1M279 360.5h1M772 363.5h3M785 375.5h8" fill="none" stroke="#00ff00" stroke-width="1" shape-rendering="crispEdges"/>
<rect x="203" y="453" width="67" height="1" fill="#000"/>
<rect x="447" y="453" width="67" height="1" fill="#ff0000"/>
<rect x="691" y="453" width="67" height="1" fill="#00ff00"/>
<text x="43.9" y="109" font-size="13" text-anchor="start" textLength="32.2" lengthAdjust="spacingAndGlyphs" stroke="#fff" stroke-width="0.15">1120.</text>
<text x="43.9" y="168" font-size="13" text-anchor="start" textLength="32.2" lengthAdjust="spacingAndGlyphs" stroke="#fff" stroke-width="0.15">1110.</text>
<text x="43.9" y="227" font-size="13" text-anchor="start" textLength="32.2" lengthAdjust="spacingAndGlyphs" stroke="#fff" stroke-width="0.15">1100.</text>
<text x="43.9" y="286" font-size="13" text-anchor="start" textLength="32.2" lengthAdjust="spacingAndGlyphs" stroke="#fff" stroke-width="0.15">1090.</text>
<text x="43.9" y="344" font-size="13" text-anchor="start" textLength="32.2" lengthAdjust="spacingAndGlyphs" stroke="#fff" stroke-width="0.15">1080.</text>
<text x="43.9" y="403" font-size="13" text-anchor="start" textLength="32.2" lengthAdjust="spacingAndGlyphs" stroke="#fff" stroke-width="0.15">1070.</text>
<text x="115.55" y="419" font-size="13" text-anchor="middle" stroke="#fff" stroke-width="0.15">00</text>
<text x="145.85" y="419" font-size="13" text-anchor="middle" stroke="#fff" stroke-width="0.15">06</text>
<text x="176.15" y="419" font-size="13" text-anchor="middle" stroke="#fff" stroke-width="0.15">12</text>
<text x="206.45" y="419" font-size="13" text-anchor="middle" stroke="#fff" stroke-width="0.15">18</text>
<text x="236.75" y="419" font-size="13" text-anchor="middle" stroke="#fff" stroke-width="0.15">00</text>
<text x="267.05" y="419" font-size="13" text-anchor="middle" stroke="#fff" stroke-width="0.15">06</text>
<text x="297.35" y="419" font-size="13" text-anchor="middle" stroke="#fff" stroke-width="0.15">12</text>
<text x="327.65" y="419" font-size="13" text-anchor="middle" stroke="#fff" stroke-width="0.15">18</text>
<text x="357.95" y="419" font-size="13" text-anchor="middle" stroke="#fff" stroke-width="0.15">00</text>
<text x="388.25" y="419" font-size="13" text-anchor="middle" stroke="#fff" stroke-width="0.15">06</text>
<text x="418.55" y="419" font-size="13" text-anchor="middle" stroke="#fff" stroke-width="0.15">12</text>
<text x="448.85" y="419" font-size="13" text-anchor="middle" stroke="#fff" stroke-width="0.15">18</text>
<text x="479.15" y="419" font-size="13" text-anchor="middle" stroke="#fff" stroke-width="0.15">00</text>
<text x="509.45" y="419" font-size="13" text-anchor="middle" stroke="#fff" stroke-width="0.15">06</text>
<text x="539.75" y="419" font-size="13" text-anchor="middle" stroke="#fff" stroke-width="0.15">12</text>
<text x="570.05" y="419" font-size="13" text-anchor="middle" stroke="#fff" stroke-width="0.15">18</text>
<text x="600.35" y="419" font-size="13" text-anchor="middle" stroke="#fff" stroke-width="0.15">00</text>
<text x="630.65" y="419" font-size="13" text-anchor="middle" stroke="#fff" stroke-width="0.15">06</text>
<text x="660.95" y="419" font-size="13" text-anchor="middle" stroke="#fff" stroke-width="0.15">12</text>
<text x="691.25" y="419" font-size="13" text-anchor="middle" stroke="#fff" stroke-width="0.15">18</text>
<text x="721.55" y="419" font-size="13" text-anchor="middle" stroke="#fff" stroke-width="0.15">00</text>
<text x="751.85" y="419" font-size="13" text-anchor="middle" stroke="#fff" stroke-width="0.15">06</text>
<text x="782.15" y="419" font-size="13" text-anchor="middle" stroke="#fff" stroke-width="0.15">12</text>
<text x="812.45" y="419" font-size="13" text-anchor="middle" stroke="#fff" stroke-width="0.15">18</text>
<text x="842.75" y="419" font-size="13" text-anchor="middle" stroke="#fff" stroke-width="0.15">00</text>
<text x="873.05" y="419" font-size="13" text-anchor="middle" stroke="#fff" stroke-width="0.15">06</text>
<text x="903.35" y="419" font-size="13" text-anchor="middle" stroke="#fff" stroke-width="0.15">12</text>
<text x="933.65" y="419" font-size="13" text-anchor="middle" stroke="#fff" stroke-width="0.15">18</text>
<text x="139.6" y="439.2" font-size="18.2" text-anchor="start" textLength="32.4" lengthAdjust="spacingAndGlyphs" stroke="#fff" stroke-width="0.4">AUG</text>
<text x="181.6" y="439.2" font-size="18.2" text-anchor="start" stroke="#fff" stroke-width="0.4">23</text>
<text x="260.7" y="439.2" font-size="18.2" text-anchor="start" textLength="32.4" lengthAdjust="spacingAndGlyphs" stroke="#fff" stroke-width="0.4">AUG</text>
<text x="302.7" y="439.2" font-size="18.2" text-anchor="start" stroke="#fff" stroke-width="0.4">24</text>
<text x="381.8" y="439.2" font-size="18.2" text-anchor="start" textLength="32.4" lengthAdjust="spacingAndGlyphs" stroke="#fff" stroke-width="0.4">AUG</text>
<text x="423.8" y="439.2" font-size="18.2" text-anchor="start" stroke="#fff" stroke-width="0.4">25</text>
<text x="502.9" y="439.2" font-size="18.2" text-anchor="start" textLength="32.4" lengthAdjust="spacingAndGlyphs" stroke="#fff" stroke-width="0.4">AUG</text>
<text x="544.9" y="439.2" font-size="18.2" text-anchor="start" stroke="#fff" stroke-width="0.4">26</text>
<text x="624" y="439.2" font-size="18.2" text-anchor="start" textLength="32.4" lengthAdjust="spacingAndGlyphs" stroke="#fff" stroke-width="0.4">AUG</text>
<text x="666" y="439.2" font-size="18.2" text-anchor="start" stroke="#fff" stroke-width="0.4">27</text>
<text x="745.1" y="439.2" font-size="18.2" text-anchor="start" textLength="32.4" lengthAdjust="spacingAndGlyphs" stroke="#fff" stroke-width="0.4">AUG</text>
<text x="787.1" y="439.2" font-size="18.2" text-anchor="start" stroke="#fff" stroke-width="0.4">28</text>
<text x="853.7" y="439.2" font-size="18.2" text-anchor="start" textLength="32.4" lengthAdjust="spacingAndGlyphs" stroke="#fff" stroke-width="0.4">AUG</text>
<text x="895.7" y="439.2" font-size="18.2" text-anchor="start" stroke="#fff" stroke-width="0.4">29</text>
<text x="336" y="81" font-size="14.4" text-anchor="start" textLength="21.9" lengthAdjust="spacingAndGlyphs" stroke="#fff" stroke-width="0.3">Ten</text>
<text x="366.1" y="81" font-size="14.4" text-anchor="start" textLength="45.1" lengthAdjust="spacingAndGlyphs" stroke="#fff" stroke-width="0.3">minute</text>
<text x="418.3" y="81" font-size="14.4" text-anchor="start" textLength="49.4" lengthAdjust="spacingAndGlyphs" stroke="#fff" stroke-width="0.3">Gridded</text>
<text x="475.4" y="81" font-size="14.4" text-anchor="start" textLength="50.6" lengthAdjust="spacingAndGlyphs" stroke="#fff" stroke-width="0.3">Mooring</text>
<text x="533.9" y="81" font-size="14.4" text-anchor="start" textLength="61.4" lengthAdjust="spacingAndGlyphs" stroke="#fff" stroke-width="0.3">MSE2006</text>
<text x="602.6" y="81" font-size="14.4" text-anchor="start" textLength="85" lengthAdjust="spacingAndGlyphs" stroke="#fff" stroke-width="0.3">Observations</text>
<text x="90.2" y="31.5" font-size="10.8" text-anchor="start" textLength="47.4" lengthAdjust="spacingAndGlyphs" >LONGITUDE</text>
<text x="141.7" y="31.5" font-size="10.8" text-anchor="start" >:</text>
<text x="149.2" y="31.5" font-size="10.8" text-anchor="start" textLength="72.4" lengthAdjust="spacingAndGlyphs" >122.9W(-122.9)</text>
<text x="90.2" y="41" font-size="10.8" text-anchor="start" textLength="39.5" lengthAdjust="spacingAndGlyphs" >LATITUDE</text>
<text x="133" y="41" font-size="10.8" text-anchor="start" >:</text>
<text x="140.4" y="41" font-size="10.8" text-anchor="start" textLength="26.5" lengthAdjust="spacingAndGlyphs" >36.2N</text>
<text x="90.2" y="50.5" font-size="10.8" text-anchor="start" textLength="27.1" lengthAdjust="spacingAndGlyphs" >DEPTH</text>
<text x="122.5" y="50.5" font-size="10.8" text-anchor="start" textLength="16.4" lengthAdjust="spacingAndGlyphs" >(m)</text>
<text x="142.5" y="50.5" font-size="10.8" text-anchor="start" >:</text>
<text x="150.4" y="50.5" font-size="10.8" text-anchor="start" textLength="6.2" lengthAdjust="spacingAndGlyphs" >0</text>
<text x="90.2" y="60" font-size="10.8" text-anchor="start" textLength="21.2" lengthAdjust="spacingAndGlyphs" >YEAR</text>
<text x="115.9" y="60" font-size="10.8" text-anchor="start" >:</text>
<text x="123.5" y="60" font-size="10.8" text-anchor="start" textLength="22" lengthAdjust="spacingAndGlyphs" >2007</text>
<text transform="translate(34.9,279.3) rotate(-90)" font-size="13" stroke="#fff" stroke-width="0.3" textLength="54.5" lengthAdjust="spacingAndGlyphs">millibars</text>
<text x="280.6" y="456.8" font-size="8.2" text-anchor="start" textLength="23.9" lengthAdjust="spacingAndGlyphs" stroke="#000" stroke-width="0.2">PRES/</text>
<text x="308.7" y="456.8" font-size="8.2" text-anchor="start" textLength="12.4" lengthAdjust="spacingAndGlyphs" stroke="#000" stroke-width="0.2">Pwr</text>
<text x="324.8" y="456.8" font-size="8.2" text-anchor="start" textLength="13.8" lengthAdjust="spacingAndGlyphs" stroke="#000" stroke-width="0.2">Can</text>
<text x="341.6" y="456.8" font-size="8.2" text-anchor="start" textLength="26.9" lengthAdjust="spacingAndGlyphs" stroke="#000" stroke-width="0.2">Internal</text>
<text x="372.7" y="456.8" font-size="8.2" text-anchor="start" textLength="29.9" lengthAdjust="spacingAndGlyphs" stroke="#000" stroke-width="0.2">Pressure</text>
<text x="406.3" y="456.8" font-size="8.2" text-anchor="start" textLength="12.8" lengthAdjust="spacingAndGlyphs" stroke="#000" stroke-width="0.2">Avg</text>
<text x="423" y="456.8" font-size="8.2" text-anchor="start" textLength="36.2" lengthAdjust="spacingAndGlyphs" stroke="#000" stroke-width="0.2">(millibars)</text>
<text x="524.6" y="456.8" font-size="8.2" text-anchor="start" textLength="23.9" lengthAdjust="spacingAndGlyphs" stroke="#000" stroke-width="0.2">PRES/</text>
<text x="552.7" y="456.8" font-size="8.2" text-anchor="start" textLength="12.4" lengthAdjust="spacingAndGlyphs" stroke="#000" stroke-width="0.2">Pwr</text>
<text x="568.8" y="456.8" font-size="8.2" text-anchor="start" textLength="13.8" lengthAdjust="spacingAndGlyphs" stroke="#000" stroke-width="0.2">Can</text>
<text x="585.6" y="456.8" font-size="8.2" text-anchor="start" textLength="26.9" lengthAdjust="spacingAndGlyphs" stroke="#000" stroke-width="0.2">Internal</text>
<text x="616.7" y="456.8" font-size="8.2" text-anchor="start" textLength="29.9" lengthAdjust="spacingAndGlyphs" stroke="#000" stroke-width="0.2">Pressure</text>
<text x="650.3" y="456.8" font-size="8.2" text-anchor="start" textLength="12.8" lengthAdjust="spacingAndGlyphs" stroke="#000" stroke-width="0.2">Max</text>
<text x="667" y="456.8" font-size="8.2" text-anchor="start" textLength="36.2" lengthAdjust="spacingAndGlyphs" stroke="#000" stroke-width="0.2">(millibars)</text>
<text x="768.6" y="456.8" font-size="8.2" text-anchor="start" textLength="23.9" lengthAdjust="spacingAndGlyphs" stroke="#000" stroke-width="0.2">PRES/</text>
<text x="796.7" y="456.8" font-size="8.2" text-anchor="start" textLength="12.4" lengthAdjust="spacingAndGlyphs" stroke="#000" stroke-width="0.2">Pwr</text>
<text x="812.8" y="456.8" font-size="8.2" text-anchor="start" textLength="13.8" lengthAdjust="spacingAndGlyphs" stroke="#000" stroke-width="0.2">Can</text>
<text x="829.6" y="456.8" font-size="8.2" text-anchor="start" textLength="26.9" lengthAdjust="spacingAndGlyphs" stroke="#000" stroke-width="0.2">Internal</text>
<text x="860.7" y="456.8" font-size="8.2" text-anchor="start" textLength="29.9" lengthAdjust="spacingAndGlyphs" stroke="#000" stroke-width="0.2">Pressure</text>
<text x="894.3" y="456.8" font-size="8.2" text-anchor="start" textLength="12.8" lengthAdjust="spacingAndGlyphs" stroke="#000" stroke-width="0.2">Min</text>
<text x="911" y="456.8" font-size="8.2" text-anchor="start" textLength="36.2" lengthAdjust="spacingAndGlyphs" stroke="#000" stroke-width="0.2">(millibars)</text>
</svg>
</body>
</html>
